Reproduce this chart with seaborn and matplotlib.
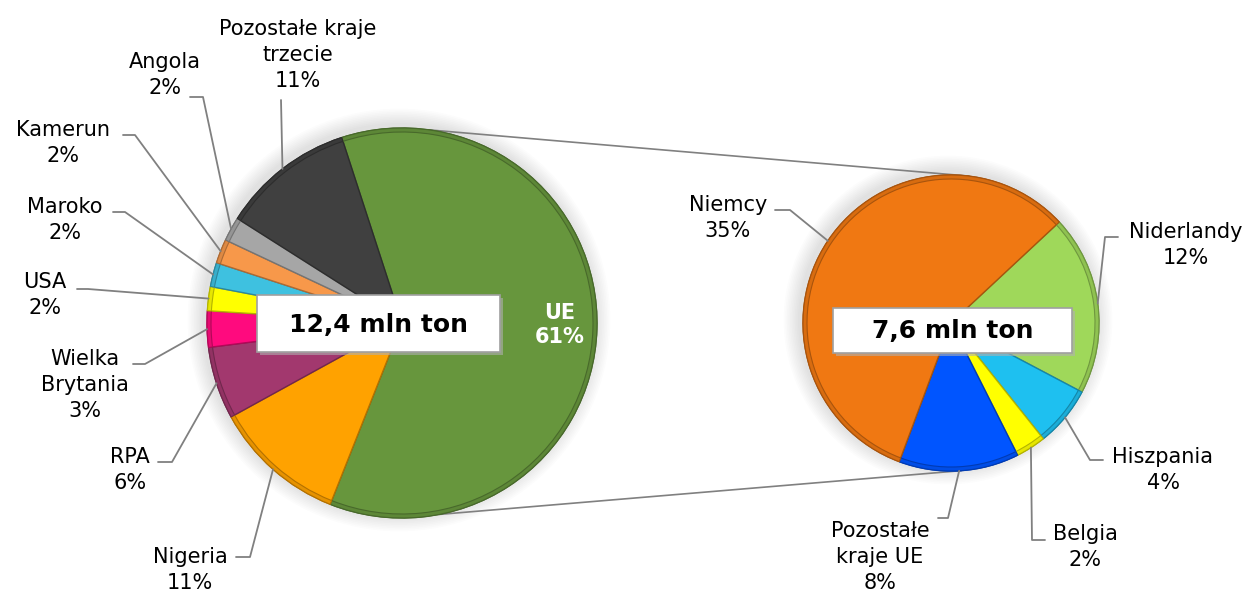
import numpy as np
import matplotlib
matplotlib.use("Agg")
import matplotlib.pyplot as plt
import matplotlib.colors as mcolors
from matplotlib.patches import Rectangle, Circle
import seaborn as sns

# left pie: all imports (% of 12.4 mln t)
main_labels = ['UE', 'Nigeria', 'RPA', 'Wielka\nBrytania', 'USA', 'Maroko', 'Kamerun', 'Angola',
               'Pozostałe kraje\ntrzecie']
main_values = [61, 11, 6, 3, 2, 2, 2, 2, 11]
main_colors = ['#67963d', '#ffa200', '#a2386e', '#ff0a7e', '#ffff00', '#3ec1e0', '#f7984a',
               '#a6a6a6', '#404040']

# right pie: EU breakdown (% of total)
eu_labels = ['Niderlandy', 'Hiszpania', 'Belgia', 'Pozostałe\nkraje UE', 'Niemcy']
eu_values = [12, 4, 2, 8, 35]
eu_colors = ['#9fd85a', '#1ec0f0', '#ffff00', '#0055ff', '#f07812']

main_total = '12,4 mln ton'
eu_total = '7,6 mln ton'

W, H = 1255, 597

sns.set_theme(style="white")
plt.rcParams['font.family'] = ['DejaVu Sans']

fig = plt.figure(figsize=(W / 100, H / 100), dpi=100)
ax = fig.add_axes([0, 0, 1, 1])


def P(x, y):
    # pixel coords -> data coords
    return x, H - y


def shade(c, f=0.75):
    r, g, b = mcolors.to_rgb(c)
    return (r * f, g * f, b * f)


L_C, L_R = P(402, 323), 195
R_C, R_R = P(951, 323), 148

# soft glow behind the pies
for c, r in [(L_C, L_R), (R_C, R_R)]:
    for k in range(10):
        ax.add_patch(Circle((c[0] - 3, c[1] + 3), r + 2 + k * 1.6, facecolor='#000000',
                            alpha=0.012, edgecolor='none', zorder=0))

pies = []
for vals, cols, start, cen, rad in [(main_values, main_colors, 108, L_C, L_R),
                                    (eu_values, eu_colors, 43, R_C, R_R)]:
    wedges, _ = ax.pie(vals, colors=cols, startangle=start, counterclock=False,
                       center=cen, radius=rad, frame=True, wedgeprops=dict(linewidth=1.0))
    for w, c in zip(wedges, cols):
        w.set_edgecolor(shade(c, 0.7))
    # darker rim for a slight bevel look
    rim, _ = ax.pie(vals, colors=[shade(c, 0.9) for c in cols], startangle=start,
                    counterclock=False, center=cen, radius=rad,
                    frame=True, wedgeprops=dict(width=4, linewidth=0))
    for w, c in zip(rim, cols):
        w.set_edgecolor(shade(c, 0.7))
        w.set_linewidth(0.8)
    pies.append(wedges)
w_main, w_eu = pies


def edge_point(wedge, frac=1.0):
    a = np.deg2rad((wedge.theta1 + wedge.theta2) / 2)
    cx, cy = wedge.center
    return cx + wedge.r * frac * np.cos(a), cy + wedge.r * frac * np.sin(a)


def circ(center, r, ang):
    a = np.deg2rad(ang)
    return center[0] + r * np.cos(a), center[1] + r * np.sin(a)


# connector lines between the pies
for la, ra in [(82, 83), (-79, -86)]:
    p1 = circ(L_C, L_R, la)
    p2 = circ(R_C, R_R, ra)
    ax.plot([p1[0], p2[0]], [p1[1], p2[1]], color='#808080', lw=1.2, zorder=0.5)

lead = dict(color='#808080', lw=1.3, zorder=3)

# label text centre, leader start, elbow (pixels)
main_pos = {
    'Nigeria': ((190, 570), (236, 557), (250, 557)),
    'RPA': ((130, 470), (158, 462), (172, 462)),
    'Wielka\nBrytania': ((85, 385), (133, 364), (145, 364)),
    'USA': ((45, 295), (77, 289), (88, 289)),
    'Maroko': ((65, 220), (113, 212), (125, 212)),
    'Kamerun': ((63, 143), (123, 135), (135, 135)),
    'Angola': ((165, 75), (190, 97), (203, 97)),
    'Pozostałe kraje\ntrzecie': ((298, 55), (281, 100), (281, 100)),
}
eu_pos = {
    'Niderlandy': ((1186, 245), (1118, 237), (1105, 237)),
    'Hiszpania': ((1163, 470), (1103, 460), (1090, 460)),
    'Belgia': ((1085, 547), (1045, 540), (1032, 540)),
    'Pozostałe\nkraje UE': ((880, 557), (938, 518), (948, 518)),
    'Niemcy': ((728, 218), (775, 210), (790, 210)),
}

for wedges, labels, values, pos in [(w_main, main_labels, main_values, main_pos),
                                    (w_eu, eu_labels, eu_values, eu_pos)]:
    for w, lab, v in zip(wedges, labels, values):
        if lab not in pos:
            continue
        (tx, ty), s, e = pos[lab]
        a = edge_point(w, 1.0)
        s, e = P(*s), P(*e)
        ax.plot([s[0], e[0], a[0]], [s[1], e[1], a[1]], **lead)
        ax.text(*P(tx, ty), f'{lab}\n{v}%', ha='center', va='center', fontsize=15,
                linespacing=1.35, color='black', zorder=4)

# UE label inside wedge
ax.text(*P(560, 325), 'UE\n61%', ha='center', va='center', fontsize=15, fontweight='bold',
        color='white', linespacing=1.3, zorder=4)

# total boxes
for (x0, y0, x1, y1), txt in [((257, 295, 500, 352), main_total),
                              ((833, 308, 1072, 353), eu_total)]:
    bx, by = P(x0, y1)
    ax.add_patch(Rectangle((bx + 3, by - 3), x1 - x0, y1 - y0, facecolor='#b0b0b0',
                           edgecolor='none', alpha=0.6, zorder=5))
    ax.add_patch(Rectangle((bx, by), x1 - x0, y1 - y0, facecolor='white',
                           edgecolor='#a0a0a0', lw=1.2, zorder=6))
    ax.text(*P((x0 + x1) / 2, (y0 + y1) / 2 + 1), txt, ha='center', va='center',
            fontsize=18, fontweight='bold', color='black', zorder=7)

ax.set_xlim(0, W)
ax.set_ylim(0, H)
ax.set_aspect('equal')
ax.axis('off')

fig.savefig('out.png', dpi=100, facecolor='white')
